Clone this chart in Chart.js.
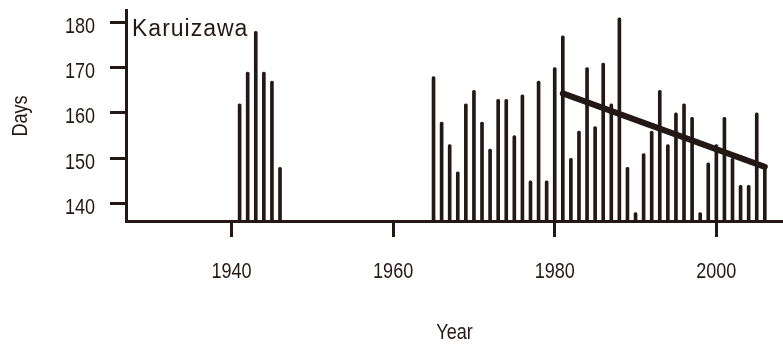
<!DOCTYPE html>
<html lang="en">
<head>
    <meta charset="UTF-8">
    <title>Karuizawa</title>
    <script src="https://cdn.jsdelivr.net/npm/chart.js"></script>
    <style>
        html, body { margin: 0; padding: 0; background: #fff; }
        canvas { display: block; }
    </style>
</head>
<body>
    <canvas id="daysChart" width="783" height="344"></canvas>

    <script>
        // Anos e número de dias
        const years = [
            1941, 1942, 1943, 1944, 1945, 1946,
            1965, 1966, 1967, 1968, 1969, 1970, 1971, 1972, 1973, 1974,
            1975, 1976, 1977, 1978, 1979, 1980, 1981, 1982, 1983, 1984,
            1985, 1986, 1987, 1988, 1989, 1990, 1991, 1992, 1993, 1994,
            1995, 1996, 1997, 1998, 1999, 2000, 2001, 2002, 2003, 2004,
            2005, 2006
        ];
        const days = [
            162, 169, 178, 169, 167, 148,
            168, 158, 153, 147, 162, 165, 158, 152, 163, 163,
            155, 164, 145, 167, 145, 170, 177, 150, 156, 170,
            157, 171, 162, 181, 148, 138, 151, 156, 165, 153,
            160, 162, 159, 138, 149, 153, 159, 150, 144, 144,
            160, 148
        ];

        // Linha de tendência (1981-2006)
        const trendYears = [1981, 2006];
        const trendDays = [164.3, 148.1];

        const xTicks = [1940, 1960, 1980, 2000];
        const yTicks = [140, 150, 160, 170, 180];

        const ink = '#231815';
        const axisFont = '22px "Liberation Sans", Arial, sans-serif';
        const narrow = 0.82; // fonte estreita: Liberation Sans comprimida
        const yMin = 136.15;

        // Texto comprimido na horizontal (com rotação opcional)
        function narrowText(ctx, text, x, y, align, angle) {
            ctx.save();
            ctx.translate(x, y);
            if (angle) ctx.rotate(angle);
            ctx.scale(narrow, 1);
            ctx.textAlign = align;
            ctx.textBaseline = 'alphabetic';
            ctx.fillText(text, 0, 0);
            ctx.restore();
        }

        // Rótulos dos eixos, títulos e nome da estação
        const axisText = {
            id: 'axisText',
            afterDraw(chart) {
                const ctx = chart.ctx;
                const xs = chart.scales.x;
                const ys = chart.scales.y;
                ctx.save();
                ctx.font = axisFont;
                ctx.fillStyle = ink;

                xTicks.forEach(v => {
                    narrowText(ctx, String(v), xs.getPixelForValue(v), xs.top + 57, 'center');
                });
                yTicks.forEach(v => {
                    narrowText(ctx, String(v), ys.right - 31, ys.getPixelForValue(v) + 10.4, 'right');
                });

                narrowText(ctx, 'Year', (chart.chartArea.left + chart.chartArea.right) / 2, 338.5, 'center');
                narrowText(ctx, 'Days', 27, 116, 'center', -Math.PI / 2);

                ctx.font = '23px "Liberation Sans", Arial, sans-serif';
                ctx.letterSpacing = '1px';
                ctx.textAlign = 'left';
                ctx.textBaseline = 'alphabetic';
                ctx.fillText('Karuizawa', 132, 36);
                ctx.restore();
            }
        };

        const axisCommon = {
            offset: false,
            border: { display: true, width: 3, color: ink },
            grid: {
                offset: false,
                drawOnChartArea: false,
                drawTicks: true,
                tickLength: 16,
                tickWidth: 3,
                tickColor: ink
            },
            ticks: { display: false }
        };

        new Chart(document.getElementById('daysChart'), {
            data: {
                datasets: [
                    {
                        type: 'bar',
                        data: years.map((y, i) => ({ x: y, y: days[i] })),
                        backgroundColor: ink,
                        barThickness: 3,
                        base: yMin,
                        borderRadius: 1.5,
                        borderSkipped: 'start'
                    },
                    {
                        type: 'line',
                        data: trendYears.map((y, i) => ({ x: y, y: trendDays[i] })),
                        borderColor: ink,
                        borderWidth: 6,
                        borderCapStyle: 'round',
                        pointRadius: 0,
                        fill: false
                    }
                ]
            },
            options: {
                responsive: false,
                animation: false,
                layout: { padding: { top: 10, right: 0, left: 0, bottom: 0 } },
                plugins: {
                    legend: { display: false },
                    tooltip: { enabled: false }
                },
                scales: {
                    x: {
                        type: 'linear',
                        position: 'bottom',
                        min: 1926.94,
                        max: 2008.25,
                        ...axisCommon,
                        afterBuildTicks: s => { s.ticks = xTicks.map(v => ({ value: v })); },
                        afterFit: s => { s.height = 123; }
                    },
                    y: {
                        type: 'linear',
                        min: yMin,
                        max: 182.7,
                        ...axisCommon,
                        afterBuildTicks: s => { s.ticks = yTicks.map(v => ({ value: v })); },
                        afterFit: s => { s.width = 126; }
                    }
                }
            },
            plugins: [axisText]
        });
    </script>
</body>
</html>
